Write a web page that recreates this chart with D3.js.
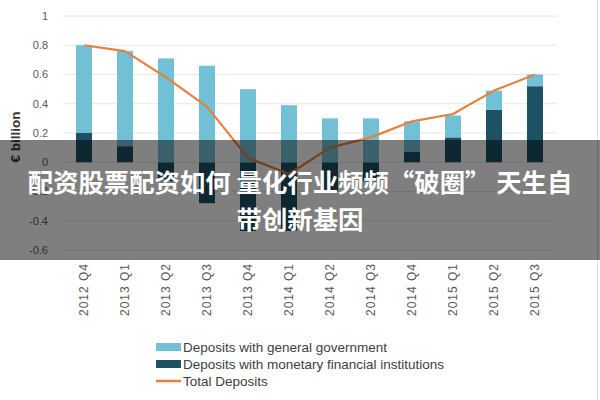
<!DOCTYPE html>
<html><head><meta charset="utf-8">
<script src="https://cdn.jsdelivr.net/npm/d3@7"></script>
<style>html,body{margin:0;padding:0;background:#fff;}svg{display:block;}</style>
</head><body>
<svg id="c" width="600" height="400"></svg>
<script>
const categories = ["2012 Q4","2013 Q1","2013 Q2","2013 Q3","2013 Q4","2014 Q1","2014 Q2","2014 Q3","2014 Q4","2015 Q1","2015 Q2","2015 Q3"];
const govDeposits = [0.60, 0.65, 0.71, 0.66, 0.50, 0.39, 0.30, 0.30, 0.21, 0.15, 0.13, 0.08];
const mfiDeposits = [0.20, 0.11, -0.13, -0.28, -0.47, -0.47, -0.20, -0.13, 0.07, 0.17, 0.36, 0.52];
const totalDeposits = [0.80, 0.76, 0.58, 0.38, 0.03, -0.08, 0.10, 0.17, 0.28, 0.33, 0.49, 0.60];
const yTicks = [1, 0.8, 0.6, 0.4, 0.2, 0, -0.2, -0.4, -0.6];
const yTickLabels = ["1","0.8","0.6","0.4","0.2","0","-0.2","-0.4","-0.6"];
const seriesNames = ["Deposits with general government","Deposits with monetary financial institutions","Total Deposits"];
const bannerLines = ["配资股票配资如何 量化行业频频“破圈” 天生自","带创新基因"];

const colGov = "#72c0d6", colMfi = "#1d5163", colTot = "#e5803d";
const svg = d3.select("#c");
const font = "'Liberation Sans', Arial, sans-serif";

const x = d3.scaleBand().domain(categories).range([63.5, 555.5]).paddingInner(0.61).paddingOuter(0.305);
const y = d3.scaleLinear().domain([-0.6, 1]).range([250, 16]);

// gridlines
svg.append("g").selectAll("line").data(yTicks).join("line")
  .attr("x1", 63).attr("x2", 557)
  .attr("y1", d => y(d)).attr("y2", d => y(d))
  .attr("stroke", "#e6e6e6").attr("stroke-width", 1);

// y tick labels
svg.append("g").selectAll("text").data(yTicks).join("text")
  .attr("x", 48).attr("y", d => y(d)).attr("dy", "0.35em")
  .attr("text-anchor", "end").attr("font-family", font).attr("font-size", 11)
  .attr("fill", "#595959").text((d, i) => yTickLabels[i]);

// y title
svg.append("text").attr("transform", "translate(20,137) rotate(-90)")
  .attr("text-anchor", "middle").attr("font-family", font).attr("font-size", 13.5)
  .attr("font-weight", "bold").attr("fill", "#333").text("€ billion");

// stacked bars
const table = categories.map((c, i) => ({cat: c, mfi: mfiDeposits[i], gov: govDeposits[i]}));
const stack = d3.stack().keys(["mfi", "gov"]).offset(d3.stackOffsetDiverging)(table);
const colors = {mfi: colMfi, gov: colGov};
svg.append("g").selectAll("g").data(stack).join("g")
  .attr("fill", d => colors[d.key])
  .selectAll("rect").data(d => d).join("rect")
  .attr("x", d => x(d.data.cat)).attr("width", x.bandwidth())
  .attr("y", d => y(Math.max(d[0], d[1])))
  .attr("height", d => Math.abs(y(d[0]) - y(d[1])));

// total line
const line = d3.line().x((d, i) => x(categories[i]) + x.bandwidth() / 2).y(d => y(d));
svg.append("path").datum(totalDeposits).attr("d", line)
  .attr("fill", "none").attr("stroke", colTot).attr("stroke-width", 2.2).attr("stroke-linejoin", "round");

// x labels
svg.append("g").selectAll("text").data(categories).join("text")
  .attr("transform", d => `translate(${x(d) + x.bandwidth() / 2 + 4},263) rotate(-90)`)
  .attr("text-anchor", "end").attr("font-family", font).attr("font-size", 12)
  .attr("letter-spacing", 1)
  .attr("fill", "#595959").text(d => d);

// right border
svg.append("line").attr("x1", 597.5).attr("x2", 597.5).attr("y1", 0).attr("y2", 400)
  .attr("stroke", "#d9d9d9");

// legend
const lg = svg.append("g").attr("font-family", font).attr("font-size", 13.5).attr("fill", "#404040");
const legendY = [347, 364, 381];
seriesNames.forEach((n, i) => {
  if (i < 2) {
    lg.append("rect").attr("x", 156).attr("y", legendY[i] - 4).attr("width", 25).attr("height", 8)
      .attr("fill", i === 0 ? colGov : colMfi);
  } else {
    lg.append("line").attr("x1", 156).attr("x2", 181).attr("y1", legendY[i]).attr("y2", legendY[i])
      .attr("stroke", colTot).attr("stroke-width", 2.5);
  }
  lg.append("text").attr("x", 183).attr("y", legendY[i]).attr("dy", "0.35em").text(n);
});

// banner overlay
svg.append("rect").attr("x", 0).attr("y", 140).attr("width", 600).attr("height", 120)
  .attr("fill", "rgba(0,0,0,0.5)");
svg.append("g").selectAll("text").data(bannerLines).join("text")
  .attr("x", 300).attr("y", (d, i) => 183 + i * 37).attr("dy", "0.35em")
  .attr("text-anchor", "middle").attr("font-family", "'Noto Sans CJK SC', sans-serif")
  .attr("font-size", 25.4).attr("font-weight", "bold").attr("fill", "#fff").text(d => d);
</script>
</body></html>
